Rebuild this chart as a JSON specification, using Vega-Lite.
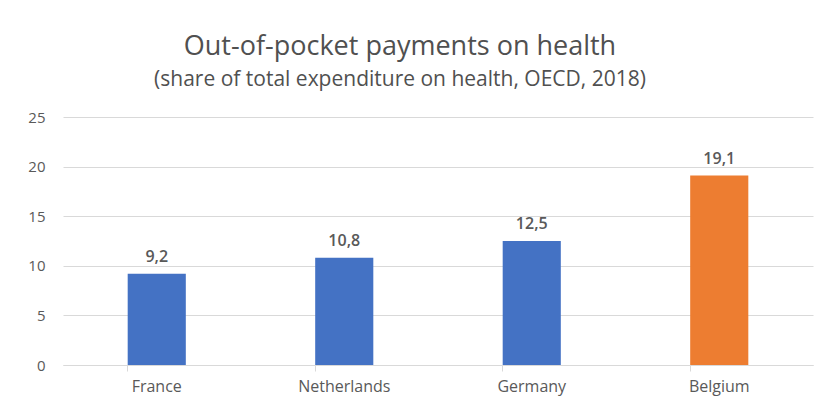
{
  "$schema": "https://vega.github.io/schema/vega-lite/v6.json",
  "autosize": {"type": "none"},
  "width": 750,
  "height": 248,
  "padding": {"left": 63, "top": 117, "right": 25, "bottom": 32},
  "background": "white",
  "config": {"view": {"stroke": null}},
  "title": {
    "text": "Out-of-pocket payments on health",
    "subtitle": "(share of total expenditure on health, OECD, 2018)",
    "anchor": "middle",
    "dx": -38,
    "offset": 19,
    "font": "Open Sans",
    "fontSize": 27,
    "fontWeight": "normal",
    "color": "#505050",
    "subtitleFont": "Open Sans",
    "subtitleFontSize": 21,
    "subtitleColor": "#505050",
    "subtitlePadding": 8
  },
  "data": {
    "values": [
      {"country": "France", "value": 9.2, "label": "9,2", "group": "other"},
      {"country": "Netherlands", "value": 10.8, "label": "10,8", "group": "other"},
      {"country": "Germany", "value": 12.5, "label": "12,5", "group": "other"},
      {"country": "Belgium", "value": 19.1, "label": "19,1", "group": "Belgium"}
    ]
  },
  "encoding": {
    "x": {
      "field": "country",
      "type": "nominal",
      "sort": null,
      "title": null,
      "scale": {"paddingInner": 0.69, "paddingOuter": 0.345},
      "axis": {
        "labelAngle": 0,
        "labelFont": "Open Sans",
        "labelFontSize": 16,
        "labelColor": "#595959",
        "labelPadding": 7,
        "domainColor": "#D9D9D9",
        "tickColor": "#D9D9D9",
        "tickSize": 6,
        "bandPosition": 0,
        "grid": false
      }
    },
    "y": {
      "field": "value",
      "type": "quantitative",
      "title": null,
      "scale": {"domain": [0, 25]},
      "axis": {
        "values": [0, 5, 10, 15, 20, 25],
        "labelFont": "Open Sans",
        "labelFontSize": 15,
        "labelColor": "#595959",
        "labelPadding": 18,
        "domain": false,
        "ticks": false,
        "gridColor": "#D9D9D9",
        "gridWidth": 1
      }
    }
  },
  "layer": [
    {
      "mark": {"type": "bar", "stroke": null},
      "encoding": {
        "color": {
          "field": "group",
          "type": "nominal",
          "scale": {"domain": ["other", "Belgium"], "range": ["#4472C4", "#ED7D31"]},
          "legend": null
        }
      }
    },
    {
      "mark": {
        "type": "text",
        "baseline": "bottom",
        "dy": -9,
        "font": "Open Sans",
        "fontSize": 16,
        "fontWeight": 600,
        "color": "#595959"
      },
      "encoding": {
        "text": {"field": "label"}
      }
    }
  ]
}
